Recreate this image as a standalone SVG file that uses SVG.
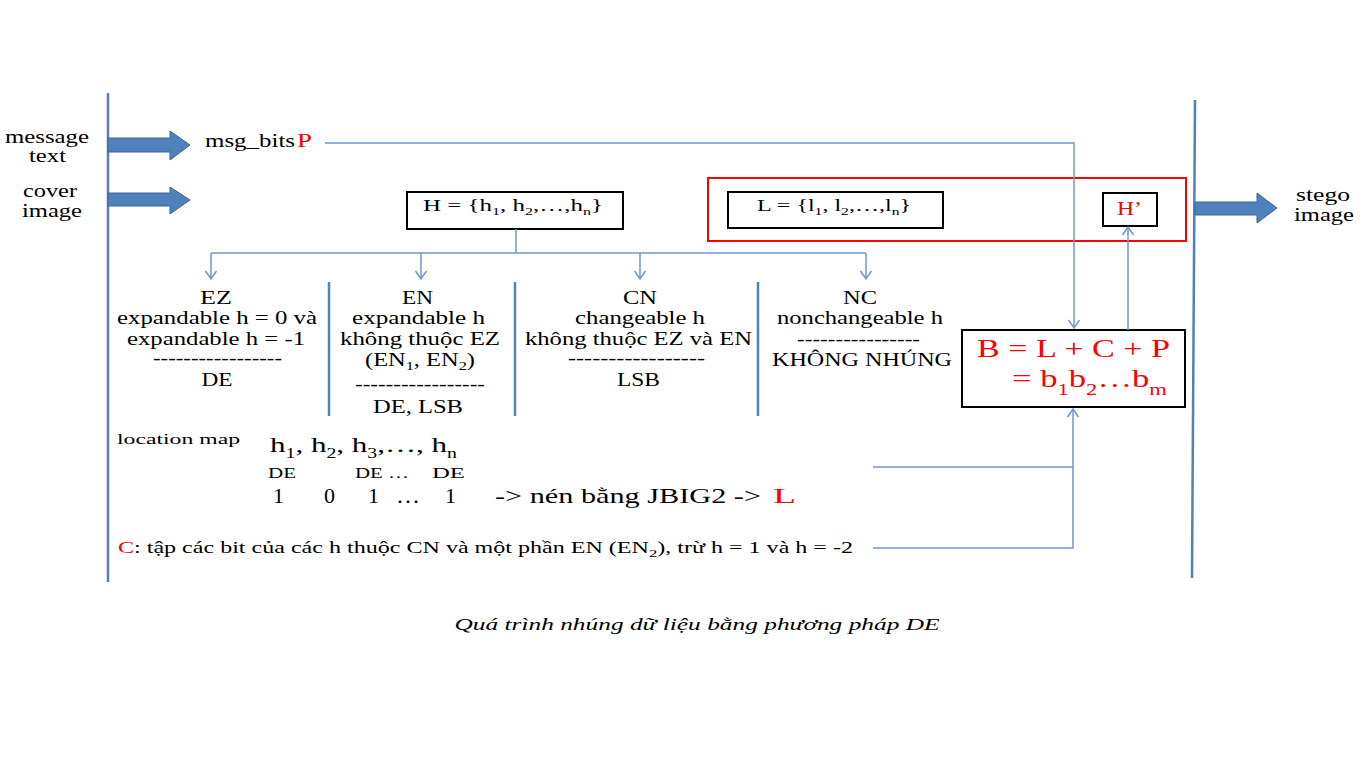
<svg xmlns="http://www.w3.org/2000/svg" width="1370" height="768" viewBox="0 0 1370 768">
<style>
.red{fill:#FF0000;}
.c{text-anchor:middle;}
.conn{fill:none;stroke:#6F97CF;stroke-width:1.5;}
.div{stroke:#4F81BD;stroke-width:2.5;fill:none;}
.box{fill:#fff;stroke:#000;stroke-width:2;}
.barrow{fill:#4F81BD;stroke:#3A649A;stroke-width:1;}
</style>
<defs>
<marker id="ah" markerUnits="userSpaceOnUse" markerWidth="14" markerHeight="14" viewBox="-10 -7 12 14" refX="0" refY="0" orient="auto">
<path d="M-8,-5.5 L0,0 L-8,5.5" fill="none" stroke="#6F97CF" stroke-width="1.5"/>
</marker>
</defs>
<rect width="1370" height="768" fill="#fff"/>

<g id="frame">
<line class="div" x1="108" y1="93" x2="108" y2="582"/>
<line class="div" x1="1195" y1="100" x2="1192" y2="578"/>
<line class="div" x1="329" y1="282" x2="329" y2="416"/>
<line class="div" x1="515" y1="282" x2="515" y2="416"/>
<line class="div" x1="758" y1="282" x2="758" y2="416"/>
</g>

<g font-family="Liberation Serif, DejaVu Serif, serif" font-size="18" fill="#000">

<g id="inputs">
<text class="c" x="47" y="143" textLength="84" lengthAdjust="spacingAndGlyphs">message</text>
<text class="c" x="47.5" y="162" textLength="37" lengthAdjust="spacingAndGlyphs">text</text>
<text class="c" x="50" y="197" textLength="54" lengthAdjust="spacingAndGlyphs">cover</text>
<text class="c" x="52" y="217" textLength="60" lengthAdjust="spacingAndGlyphs">image</text>
<polygon class="barrow" points="108,138 170,138 170,131 190,145 170,160 170,152 108,152"/>
<polygon class="barrow" points="108,193 170,193 170,187 190,200 170,214 170,206 108,206"/>
</g>

<g id="msgbits">
<text x="205" y="147" textLength="90" lengthAdjust="spacingAndGlyphs">msg_bits</text>
<text class="red" x="297" y="147" textLength="15" lengthAdjust="spacingAndGlyphs">P</text>
</g>

<g id="output">
<polygon class="barrow" points="1195,202 1257,202 1257,193 1277,208 1257,223 1257,215 1195,215"/>
<text class="c" x="1323" y="201" textLength="54" lengthAdjust="spacingAndGlyphs">stego</text>
<text class="c" x="1324" y="221" textLength="60" lengthAdjust="spacingAndGlyphs">image</text>
</g>

<g id="Hbox">
<rect class="box" x="407" y="192" width="216" height="37"/>
<text x="423" y="211" font-size="17" textLength="180" lengthAdjust="spacingAndGlyphs">H = {h<tspan font-size="11" dy="4">1</tspan><tspan dy="-4">, h</tspan><tspan font-size="11" dy="4">2</tspan><tspan dy="-4">,…,h</tspan><tspan font-size="11" dy="4">n</tspan><tspan dy="-4">}</tspan></text>
</g>

<g id="redgroup">
<rect x="708" y="178" width="478" height="63" fill="none" stroke="#FF0000" stroke-width="2"/>
</g>

<g id="Lbox">
<rect class="box" x="728" y="192" width="215" height="36"/>
<text x="757" y="211" font-size="17" textLength="154" lengthAdjust="spacingAndGlyphs">L = {l<tspan font-size="11" dy="4">1</tspan><tspan dy="-4">, l</tspan><tspan font-size="11" dy="4">2</tspan><tspan dy="-4">,…,l</tspan><tspan font-size="11" dy="4">n</tspan><tspan dy="-4">}</tspan></text>
</g>

<g id="Hprime">
<rect class="box" x="1103" y="193" width="54" height="33"/>
<text class="red" x="1117" y="215" textLength="25" lengthAdjust="spacingAndGlyphs">H’</text>
</g>

<g id="EZ">
<text class="c" x="216" y="304" textLength="32" lengthAdjust="spacingAndGlyphs">EZ</text>
<text class="c" x="217" y="324" textLength="200" lengthAdjust="spacingAndGlyphs">expandable h = 0 và</text>
<text class="c" x="216" y="345" textLength="178" lengthAdjust="spacingAndGlyphs">expandable h = -1</text>
<text class="c" x="217.5" y="364" textLength="129" lengthAdjust="spacingAndGlyphs">-----------------</text>
<text class="c" x="217" y="386" textLength="31" lengthAdjust="spacingAndGlyphs">DE</text>
</g>

<g id="EN">
<text class="c" x="417.5" y="304" textLength="31" lengthAdjust="spacingAndGlyphs">EN</text>
<text class="c" x="418.5" y="324" textLength="133" lengthAdjust="spacingAndGlyphs">expandable h</text>
<text class="c" x="420" y="345" textLength="160" lengthAdjust="spacingAndGlyphs">không thuộc EZ</text>
<text class="c" x="420" y="366" textLength="110" lengthAdjust="spacingAndGlyphs">(EN<tspan font-size="12" dy="4">1</tspan><tspan dy="-4">, EN</tspan><tspan font-size="12" dy="4">2</tspan><tspan dy="-4">)</tspan></text>
<text class="c" x="420" y="390" textLength="130" lengthAdjust="spacingAndGlyphs">-----------------</text>
<text class="c" x="418" y="413" textLength="90" lengthAdjust="spacingAndGlyphs">DE, LSB</text>
</g>

<g id="CN">
<text class="c" x="640" y="304" textLength="34" lengthAdjust="spacingAndGlyphs">CN</text>
<text class="c" x="640" y="324" textLength="130" lengthAdjust="spacingAndGlyphs">changeable h</text>
<text class="c" x="638.5" y="345" textLength="227" lengthAdjust="spacingAndGlyphs">không thuộc EZ và EN</text>
<text class="c" x="636.5" y="364" textLength="137" lengthAdjust="spacingAndGlyphs">-----------------</text>
<text class="c" x="638.5" y="386" textLength="43" lengthAdjust="spacingAndGlyphs">LSB</text>
</g>

<g id="NC">
<text class="c" x="860" y="304" textLength="34" lengthAdjust="spacingAndGlyphs">NC</text>
<text class="c" x="860" y="324" textLength="166" lengthAdjust="spacingAndGlyphs">nonchangeable h</text>
<text class="c" x="858.5" y="345" textLength="123" lengthAdjust="spacingAndGlyphs">----------------</text>
<text class="c" x="862" y="366" textLength="180" lengthAdjust="spacingAndGlyphs">KHÔNG NHÚNG</text>
</g>

<g id="Bbox">
<rect class="box" x="962" y="330" width="223" height="77"/>
<text class="red" x="977" y="357" font-size="26" textLength="193" lengthAdjust="spacingAndGlyphs">B = L + C + P</text>
<text class="red" x="1012" y="387" font-size="26" textLength="155" lengthAdjust="spacingAndGlyphs">= b<tspan font-size="17" dy="8">1</tspan><tspan dy="-8">b</tspan><tspan font-size="17" dy="8">2</tspan><tspan dy="-8">…b</tspan><tspan font-size="17" dy="8">m</tspan></text>
</g>

<g id="locationmap">
<text x="117" y="444" font-size="15" textLength="123" lengthAdjust="spacingAndGlyphs">location map</text>
<text x="270" y="452" font-size="22" textLength="187" lengthAdjust="spacingAndGlyphs">h<tspan font-size="14" dy="6">1</tspan><tspan dy="-6">, h</tspan><tspan font-size="14" dy="6">2</tspan><tspan dy="-6">, h</tspan><tspan font-size="14" dy="6">3</tspan><tspan dy="-6">,…, h</tspan><tspan font-size="14" dy="6">n</tspan></text>
<text x="268" y="478" font-size="15" textLength="28" lengthAdjust="spacingAndGlyphs">DE</text>
<text x="355" y="478" font-size="15" textLength="54" lengthAdjust="spacingAndGlyphs">DE …</text>
<text x="432" y="478" font-size="15" textLength="33" lengthAdjust="spacingAndGlyphs">DE</text>
<text x="273" y="503" font-size="22">1</text>
<text x="324" y="503" font-size="22">0</text>
<text x="368" y="503" font-size="22">1</text>
<text x="396" y="503" font-size="22" textLength="24" lengthAdjust="spacingAndGlyphs">…</text>
<text x="445" y="503" font-size="22">1</text>
<text x="495" y="503" font-size="22" textLength="266" lengthAdjust="spacingAndGlyphs">-&gt; nén bằng JBIG2 -&gt;</text>
<text x="773" y="503" font-size="22" class="red" textLength="23" lengthAdjust="spacingAndGlyphs">L</text>
</g>

<g id="Cset">
<text x="118" y="553" font-size="16" textLength="735" lengthAdjust="spacingAndGlyphs"><tspan class="red">C</tspan>: tập các bit của các h thuộc CN và một phần EN (EN<tspan font-size="11" dy="4">2</tspan><tspan dy="-4">), trừ h = 1 và h = -2</tspan></text>
</g>

<g id="caption">
<text class="c" x="697" y="630" font-size="17" font-style="italic" textLength="485" lengthAdjust="spacingAndGlyphs">Quá trình nhúng dữ liệu bằng phương pháp DE</text>
</g>
</g>

<g id="connectors">
<polyline class="conn" points="325,143 1074,143 1074,328" marker-end="url(#ah)"/>
<line class="conn" x1="516" y1="229" x2="516" y2="253"/>
<line class="conn" x1="211" y1="253" x2="866" y2="253"/>
<line class="conn" x1="211" y1="253" x2="211" y2="279" marker-end="url(#ah)"/>
<line class="conn" x1="421" y1="253" x2="421" y2="279" marker-end="url(#ah)"/>
<line class="conn" x1="640" y1="253" x2="640" y2="279" marker-end="url(#ah)"/>
<line class="conn" x1="866" y1="253" x2="866" y2="279" marker-end="url(#ah)"/>
<line class="conn" x1="1128" y1="330" x2="1128" y2="227" marker-end="url(#ah)"/>
<line class="conn" x1="873" y1="467" x2="1073" y2="467"/>
<polyline class="conn" points="873,548 1073,548 1073,409" marker-end="url(#ah)"/>
</g>
</svg>
